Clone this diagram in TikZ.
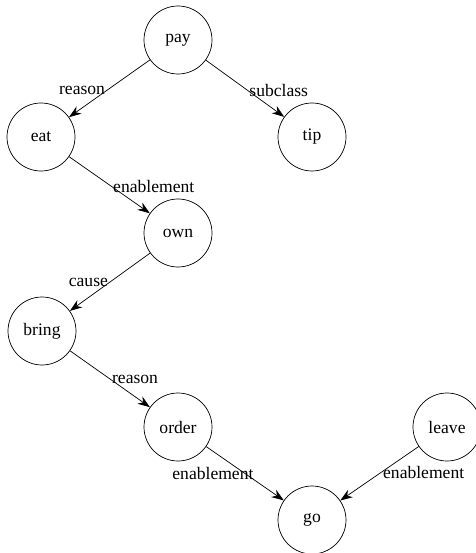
\documentclass[tikz,border=0pt]{standalone}
\usepackage{fontspec}
\setmainfont{Liberation Serif}
\usepackage{tikz}
\usetikzlibrary{arrows.meta,positioning}

\begin{document}
\begin{tikzpicture}[
    concept/.style={circle, draw, thin, minimum size=1.36cm, inner sep=0pt, font=\fontsize{10}{12}\selectfont},
    rel/.style={font=\fontsize{10}{12}\selectfont, inner sep=1pt},
    arrow/.style={-{Stealth[length=7pt,width=5pt]}, thin}
]
    \useasboundingbox (0,0) rectangle (9.5,-11.06);
    \node[concept] (pay) at (3.56,-0.80) {pay};
    \node[concept] (eat) at (0.82,-2.74) {eat};
    \node[concept] (tip) at (6.24,-2.74) {tip};
    \node[concept] (own) at (3.56,-4.66) {own};
    \node[concept] (bring) at (0.84,-6.62) {bring};
    \node[concept] (order) at (3.56,-8.54) {order};
    \node[concept] (leave) at (8.94,-8.54) {leave};
    \node[concept] (go) at (6.24,-10.40) {go};

    \draw[arrow] (pay) -- node[rel, pos=0.53, anchor=east] {reason} (eat);
    \draw[arrow] (pay) -- node[rel, pos=0.53, anchor=west] {subclass} (tip);
    \draw[arrow] (eat) -- node[rel, pos=0.52, anchor=west] {enablement} (own);
    \draw[arrow] (own) -- node[rel, pos=0.5, anchor=east] {cause} (bring);
    \draw[arrow] (bring) -- node[rel, pos=0.5, anchor=west] {reason} (order);
    \draw[arrow] (order) -- node[rel, pos=0.5, anchor=east, xshift=6pt] {enablement} (go);
    \draw[arrow] (leave) -- node[rel, pos=0.48, anchor=west] {enablement} (go);
\end{tikzpicture}
\end{document}
